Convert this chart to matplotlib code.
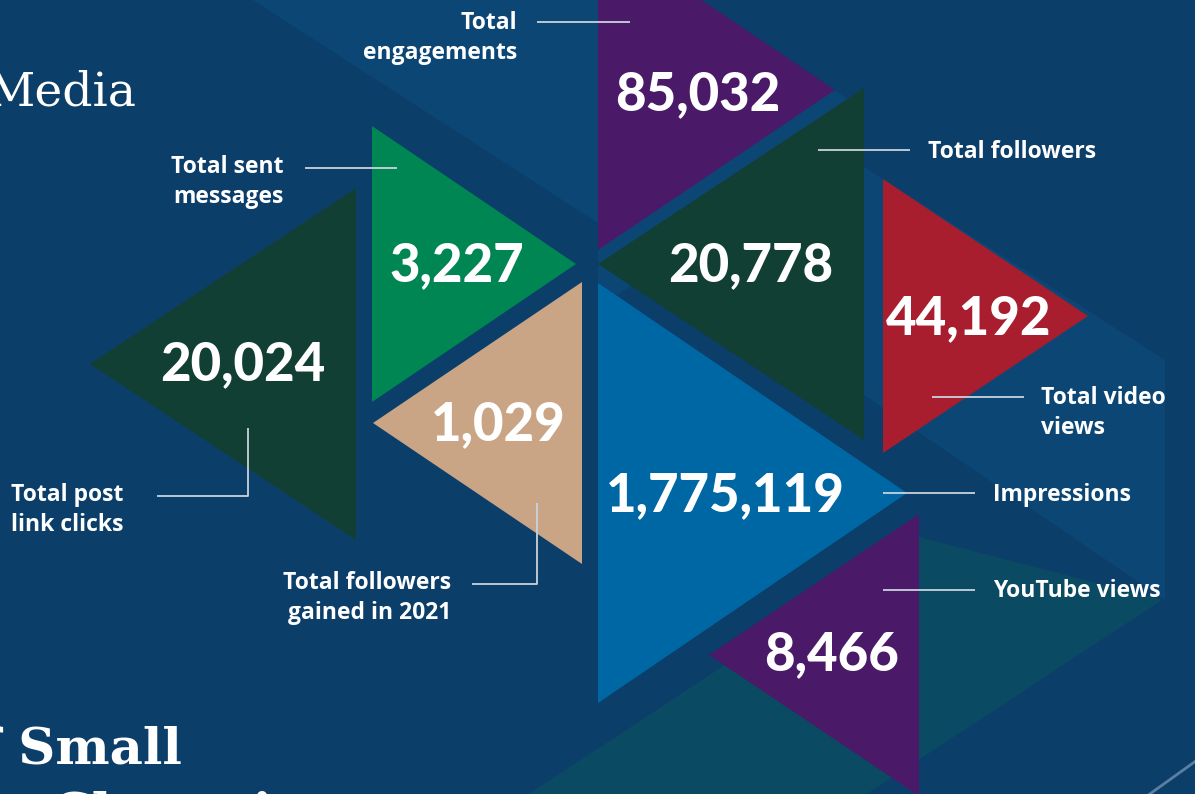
import matplotlib
matplotlib.use("Agg")
import matplotlib.pyplot as plt
from matplotlib.patches import Polygon

# data
metric_labels = [
    "Total\nengagements",
    "Total sent\nmessages",
    "Total followers",
    "Total video\nviews",
    "Total post\nlink clicks",
    "Total followers\ngained in 2021",
    "Impressions",
    "YouTube views",
]
metric_values = [85032, 3227, 20778, 44192, 20024, 1029, 1775119, 8466]
title_top = "Media"
title_bottom = ["of Small", "Champions"]

# layout (pixel space, y down)
BG = "#0c3e6a"
LIGHT = "#0b4674"
TEAL = "#0a4a62"
LINE = "#c9d3dd"

# triangle: (base x, apex x, centre y, half height, colour)
tri_layout = [
    (598, 835, 90, 160, "#4a1a69"),
    (372, 576, 264, 138, "#008652"),
    (864, 598, 264, 176, "#123f34"),
    (883, 1088, 316, 137, "#a81e2f"),
    (356, 90, 364, 176, "#123f34"),
    (582, 373, 423, 141, "#c9a586"),
    (598, 907, 493, 210, "#0067a5"),
    (919, 709, 655, 141, "#4a1a69"),
]
# value text centre (x, y)
value_pos = [(698, 93), (457, 264), (751, 264), (969, 317),
             (243, 363), (498, 423), (725, 494), (832, 653)]
# label: (x, y, ha)
label_pos = [(517, 38, "right"), (284, 182, "right"), (928, 152, "left"),
             (1041, 413, "left"), (11, 510, "left"), (451, 598, "right"),
             (993, 495, "left"), (993, 591, "left")]
# leader lines as polylines
leaders = [
    [(537, 22), (630, 22)],
    [(305, 168), (397, 168)],
    [(818, 150), (910, 150)],
    [(932, 397), (1024, 397)],
    [(157, 496), (248, 496), (248, 428)],
    [(472, 584), (537, 584), (537, 503)],
    [(883, 493), (975, 493)],
    [(883, 590), (975, 590)],
]

fig = plt.figure(figsize=(11.95, 7.94), dpi=100)
fig.patch.set_facecolor(BG)
ax = fig.add_axes([0, 0, 1, 1])
ax.set_xlim(0, 1195)
ax.set_ylim(794, 0)
ax.axis("off")

# background shapes
bg_shapes = [
    ([(253, 0), (702, 0), (864, 110), (864, 130), (610, 300), (598, 300), (598, 223)], LIGHT),
    ([(864, 167), (1165, 360), (1165, 600), (864, 395)], LIGHT),
    ([(520, 800), (919, 537), (1162, 600), (850, 805)], TEAL),
]
for pts, c in bg_shapes:
    ax.add_patch(Polygon(pts, closed=True, facecolor=c, edgecolor="none", zorder=1))

ax.plot([1147, 1200], [796, 758], color="#5a7fa3", lw=2, zorder=1)


def triangle(base_x, apex_x, cy, half):
    return [(base_x, cy - half), (apex_x, cy), (base_x, cy + half)]


for (bx, axx, cy, h, c) in tri_layout:
    ax.add_patch(Polygon(triangle(bx, axx, cy, h), closed=True,
                         facecolor=c, edgecolor="none", zorder=2))

for v, (x, y) in zip(metric_values, value_pos):
    ax.text(x, y + 17, f"{v:,}", ha="center", va="baseline", color="white",
            fontsize=38, fontweight="black", family=["Lato", "DejaVu Sans"], zorder=4)

for lab, (x, y, ha) in zip(metric_labels, label_pos):
    ax.text(x, y, lab, ha=ha, va="center", multialignment=ha, color="white",
            fontsize=16.5, fontweight="bold", linespacing=1.32,
            family=["Open Sans", "DejaVu Sans"], zorder=4)

for pts in leaders:
    xs = [p[0] for p in pts]
    ys = [p[1] for p in pts]
    ax.plot(xs, ys, color=LINE, lw=1.3, zorder=3, solid_capstyle="butt")

# section titles
ax.text(137, 105, title_top, ha="right", va="baseline", color="white",
        fontsize=34, family="DejaVu Serif", zorder=4)
ax.text(-56, 763, title_bottom[0], ha="left", va="baseline", color="white",
        fontsize=37, fontweight="bold", family="DejaVu Serif", zorder=4)
ax.text(52, 829, title_bottom[1], ha="left", va="baseline", color="white",
        fontsize=37, fontweight="bold", family="DejaVu Serif", zorder=4)

fig.savefig("out.png", dpi=100, facecolor=BG)
